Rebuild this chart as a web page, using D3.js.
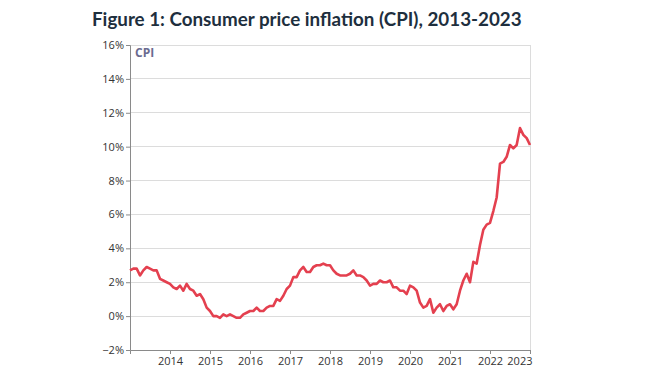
<!DOCTYPE html>
<html><head><meta charset="utf-8">
<script src="https://cdn.jsdelivr.net/npm/d3@7"></script>
<style>
body{margin:0;background:#fff;}
svg{display:block;}
</style></head><body>
<svg id="c" width="667" height="381"></svg>
<script>
const titleText = "Figure 1: Consumer price inflation (CPI), 2013-2023";
const seriesLabel = "CPI";
const startYear = 2013;
const cpi = [
 2.7,2.8,2.8,2.4,2.7,2.9,2.8,2.7,2.7,2.2,2.1,2.0,
 1.9,1.7,1.6,1.8,1.5,1.9,1.6,1.5,1.2,1.3,1.0,0.5,
 0.3,0.0,0.0,-0.1,0.1,0.0,0.1,0.0,-0.1,-0.1,0.1,0.2,
 0.3,0.3,0.5,0.3,0.3,0.5,0.6,0.6,1.0,0.9,1.2,1.6,
 1.8,2.3,2.3,2.7,2.9,2.6,2.6,2.9,3.0,3.0,3.1,3.0,
 3.0,2.7,2.5,2.4,2.4,2.4,2.5,2.7,2.4,2.4,2.3,2.1,
 1.8,1.9,1.9,2.1,2.0,2.0,2.1,1.7,1.7,1.5,1.5,1.3,
 1.8,1.7,1.5,0.8,0.5,0.6,1.0,0.2,0.5,0.7,0.3,0.6,
 0.7,0.4,0.7,1.5,2.1,2.5,2.0,3.2,3.1,4.2,5.1,5.4,
 5.5,6.2,7.0,9.0,9.1,9.4,10.1,9.9,10.1,11.1,10.7,10.5,
 10.1
];
const yTicks = [-2,0,2,4,6,8,10,12,14,16];
const xTickYears = [2014,2015,2016,2017,2018,2019,2020,2021,2022,2023];

const svg = d3.select("#c");
const m = {l:130, r:137, t:45, b:31};
const W = 667, H = 381;
const x = d3.scaleLinear().domain([startYear, startYear + (cpi.length-1)/12]).range([m.l, W-m.r]);
const y = d3.scaleLinear().domain([-2,16]).range([H-m.b, m.t]);

svg.append("text").attr("x",92).attr("y",26)
  .attr("font-family","Lato, 'Open Sans', sans-serif").attr("font-weight","bold")
  .attr("font-size",18.8).attr("fill","#1e2f3e").text(titleText);

// gridlines
svg.append("g").selectAll("line").data(yTicks.filter(d=>d!==-2)).join("line")
  .attr("x1",m.l).attr("x2",W-m.r).attr("y1",d=>y(d)).attr("y2",d=>y(d))
  .attr("stroke","#dcdcdc").attr("stroke-width",1).attr("shape-rendering","crispEdges");
// right border
svg.append("line").attr("x1",W-m.r+0.5).attr("x2",W-m.r+0.5).attr("y1",m.t).attr("y2",H-m.b)
  .attr("stroke","#dcdcdc");

const fmt = d => (d<0 ? "\u2212" + Math.abs(d) : d) + "%";
const yAxis = svg.append("g").attr("transform",`translate(${m.l},0)`)
  .call(d3.axisLeft(y).tickValues(yTicks).tickFormat(fmt).tickSize(4).tickPadding(2));
const xAxis = svg.append("g").attr("transform",`translate(0,${H-m.b})`)
  .call(d3.axisBottom(x).tickValues(xTickYears).tickFormat(d3.format("d")).tickSize(4).tickPadding(3));
[yAxis,xAxis].forEach(a=>{
  a.select(".domain").attr("stroke","#8a8a8a");
  a.selectAll(".tick line").attr("stroke","#8a8a8a");
  a.selectAll(".tick text").attr("font-family","'Open Sans', 'Liberation Sans', sans-serif")
    .attr("font-size",11).attr("fill","#333");
});
xAxis.selectAll(".tick text").filter(d=>d===2023).attr("text-anchor","end").attr("dx","2");

svg.append("text").attr("x",m.l+5).attr("y",m.t+12)
  .attr("font-family","'Open Sans', sans-serif").attr("font-weight","bold")
  .attr("font-size",12).attr("fill","#6b6b8f").text(seriesLabel);

const line = d3.line().x((d,i)=>x(startYear + i/12)).y(d=>y(d));
svg.append("path").datum(cpi).attr("d",line).attr("fill","none")
  .attr("stroke","#e4404f").attr("stroke-width",2.6).attr("stroke-linejoin","round");
</script>
</body></html>
